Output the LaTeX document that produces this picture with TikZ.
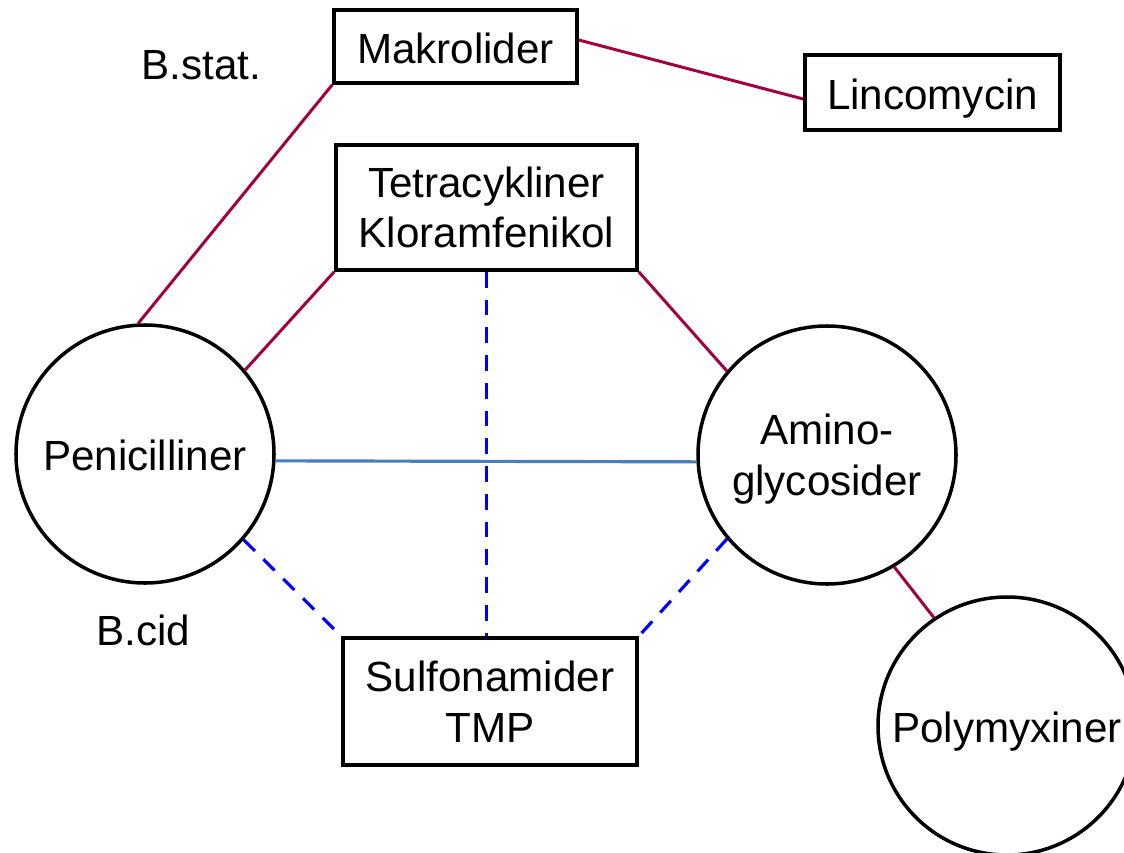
\documentclass[tikz,border=0pt]{standalone}
\usepackage{fontspec}
\setmainfont{Liberation Sans}
\definecolor{linkred}{HTML}{A20040}
\definecolor{linkblue}{HTML}{4A7EBB}
\definecolor{dashblue}{HTML}{0000FF}
\begin{document}
\begin{tikzpicture}[
  every node/.style={font=\fontsize{24}{28.8}\selectfont, inner sep=0pt},
  drugbox/.style={draw=black, line width=2pt, fill=white, rectangle, align=center},
  drugcircle/.style={draw=black, line width=2pt, fill=white, circle, align=center, minimum size=5.16cm},
  oneline/.style={text height=19pt, text depth=0pt},
  strong/.style={draw=linkred, line width=1.7pt},
  additive/.style={draw=linkblue, line width=1.8pt},
  weak/.style={draw=dashblue, line width=1.8pt, dash pattern=on 9pt off 6.8pt},
  label/.style={anchor=base}
]
\useasboundingbox (0,0) rectangle (22.48,-17.06);
\clip (0,0) rectangle (22.48,-17.06);

% drug groups
\node[drugbox, oneline, minimum width=4.86cm, minimum height=1.46cm] (mak) at (9.11,-0.93) {Makrolider};
\node[drugbox, oneline, minimum width=5.10cm, minimum height=1.50cm] (linc) at (18.65,-1.85) {Lincomycin};
\node[drugbox, minimum width=6.02cm, minimum height=2.50cm] (tet) at (9.73,-4.15) {Tetracykliner\\Kloramfenikol};
\node[drugbox, minimum width=5.88cm, minimum height=2.54cm] (sulf) at (9.80,-14.03) {Sulfonamider\\TMP};
\node[drugcircle, oneline] (pen) at (2.90,-9.08) {Penicilliner};
\node[drugcircle, text depth=0pt] (amino) at (16.54,-9.10) {Amino-\\glycosider};
\node[drugcircle, oneline] (poly) at (20.14,-14.52) {Polymyxiner};

% side labels
\node[label] (bstat) at (4.03,-1.58) {B.stat.};
\node[label] (bcid) at (2.87,-12.90) {B.cid};

% connectors
\draw[strong] (mak.south west) -- (pen.93);
\draw[strong] ([yshift=0.13cm]mak.east) -- ([yshift=-0.13cm]linc.west);
\draw[strong] (tet.south west) -- (pen.40);
\draw[strong] (tet.south east) -- (amino.140);
\draw[strong] (amino.-59.7) -- (poly.124.8);
\draw[additive] (pen.-3.5) -- (amino.183.1);
\draw[weak] (tet.south) -- (tet.south |- sulf.north);
\draw[weak] (pen.-41) -- (sulf.north west);
\draw[weak] (amino.220) -- (sulf.north east);
\end{tikzpicture}
\end{document}
